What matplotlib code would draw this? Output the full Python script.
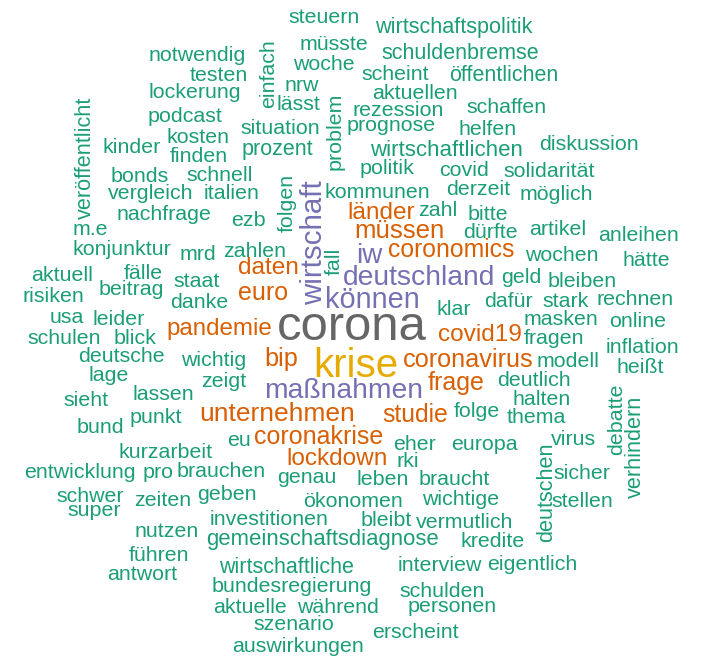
import numpy as np
import matplotlib
matplotlib.use("Agg")
import matplotlib.pyplot as plt

# word counts (corona is the most frequent term)
words = ["steuern", "wirtschaftspolitik", "notwendig", "müsste", "schuldenbremse", "woche",
         "testen", "scheint", "öffentlichen", "einfach", "lockerung", "nrw", "lässt",
         "aktuellen", "podcast", "rezession", "schaffen", "problem", "veröffentlicht",
         "kosten", "situation", "prognose", "helfen", "kinder", "finden", "prozent",
         "wirtschaftlichen", "diskussion", "bonds", "schnell", "politik", "covid",
         "solidarität", "vergleich", "italien", "kommunen", "derzeit", "möglich",
         "folgen", "wirtschaft", "länder", "zahl", "bitte", "nachfrage", "ezb", "m.e",
         "müssen", "dürfte", "artikel", "anleihen", "konjunktur", "mrd", "zahlen",
         "fall", "iw", "coronomics", "wochen", "hätte", "aktuell", "fälle", "daten",
         "deutschland", "geld", "bleiben", "risiken", "beitrag", "staat", "euro",
         "können", "rechnen", "usa", "leider", "danke", "dafür", "stark", "klar",
         "masken", "online", "schulen", "blick", "pandemie", "corona", "covid19",
         "fragen", "deutsche", "wichtig", "bip", "krise", "coronavirus", "modell",
         "inflation", "lage", "zeigt", "heißt", "sieht", "lassen", "maßnahmen",
         "frage", "deutlich", "punkt", "halten", "bund", "unternehmen", "studie",
         "folge", "thema", "debatte", "kurzarbeit", "eu", "coronakrise", "eher",
         "europa", "virus", "verhindern", "lockdown", "rki", "entwicklung", "pro",
         "brauchen", "genau", "leben", "braucht", "deutschen", "sicher", "schwer",
         "zeiten", "geben", "ökonomen", "wichtige", "stellen", "super",
         "investitionen", "bleibt", "vermutlich", "nutzen", "gemeinschaftsdiagnose",
         "kredite", "führen", "wirtschaftliche", "interview", "eigentlich", "antwort",
         "bundesregierung", "schulden", "aktuelle", "während", "personen", "szenario",
         "erscheint", "auswirkungen"]

freqs = [80, 90, 80, 80, 85, 80,
         80, 80, 85, 80, 80, 80, 80,
         80, 80, 80, 80, 80, 90,
         80, 80, 80, 80, 80, 80, 85,
         110, 80, 80, 80, 80, 80,
         80, 80, 80, 80, 80, 80,
         80, 350, 180, 80, 80, 80, 80, 80,
         230, 80, 80, 80, 80, 80, 80,
         80, 290, 190, 80, 80, 80, 80, 180,
         310, 80, 80, 80, 80, 80, 200,
         330, 80, 80, 80, 80, 80, 80, 80,
         80, 80, 80, 80, 170, 1000, 180,
         80, 80, 80, 210, 710, 210, 80,
         80, 80, 80, 80, 80, 80, 310,
         200, 80, 80, 80, 80, 245, 190,
         80, 80, 80, 80, 80, 200, 80,
         80, 80, 90, 180, 80, 80, 80,
         80, 80, 80, 80, 90, 80, 80,
         80, 80, 80, 80, 80, 80,
         80, 80, 80, 80, 105,
         80, 80, 85, 80, 80, 80,
         80, 80, 80, 80, 80, 80,
         80, 80]

# layout of the cloud: left end / baseline of each word in pixels, and upright words
lay_x = [288, 375, 149, 300, 381, 293,
         190, 361, 449, 274, 149, 285, 277,
         372, 148, 352, 466, 341, 91,
         167, 240, 347, 459, 103, 170, 242,
         370, 539, 111, 186, 360, 439,
         503, 108, 204, 324, 446, 520,
         293, 322, 347, 418, 468, 117, 231, 73,
         354, 463, 529, 598, 73, 180, 223,
         340, 356, 388, 525, 622, 31, 124, 238,
         343, 501, 548, 23, 99, 173, 238,
         325, 597, 50, 93, 170, 484, 542, 436,
         524, 609, 27, 114, 166, 277, 438,
         524, 78, 181, 264, 313, 403, 537,
         606, 89, 201, 617, 63, 133, 264,
         428, 497, 130, 512, 77, 199, 382,
         454, 507, 622, 118, 227, 254, 393,
         451, 551, 641, 286, 397, 24, 143,
         177, 277, 357, 419, 552, 553, 56,
         134, 197, 303, 422, 551, 67,
         210, 361, 416, 135, 206,
         461, 129, 219, 398, 487, 107,
         212, 399, 213, 297, 408, 253,
         372, 232]
lay_y = [23, 33, 61, 50, 59, 70,
         81, 80, 81, 108, 98, 91, 110,
         99, 122, 116, 113, 170, 219,
         143, 134, 131, 135, 153, 162, 155,
         156, 150, 182, 181, 174, 176,
         177, 199, 199, 198, 195, 200,
         232, 305, 219, 216, 220, 220, 226, 235,
         238, 238, 235, 241, 255, 260, 257,
         275, 263, 257, 261, 266, 281, 279, 274,
         285, 283, 287, 302, 295, 287, 300,
         308, 305, 323, 325, 308, 307, 307, 315,
         325, 327, 344, 344, 335, 340, 341,
         344, 362, 366, 366, 377, 367, 367,
         353, 381, 387, 373, 406, 400, 398,
         390, 386, 423, 405, 433, 421, 422,
         417, 423, 455, 458, 446, 444, 450,
         450, 445, 498, 465, 467, 478, 478,
         477, 483, 485, 485, 542, 479, 502,
         506, 500, 507, 505, 507, 516,
         525, 526, 528, 537, 545,
         547, 561, 573, 571, 570, 580,
         592, 597, 613, 613, 612, 630,
         638, 652]
upright = {"einfach", "problem", "veröffentlicht", "folgen", "wirtschaft", "fall",
           "debatte", "verhindern", "deutschen"}

palette = ["#1B9E77", "#D95F02", "#7570B3", "#E7298A",
           "#66A61E", "#E6AB02", "#A6761D", "#666666"]

fig = plt.figure(figsize=(7.02, 6.60), dpi=100)
ax = fig.add_axes([0, 0, 1, 1])
ax.set_xlim(0, 702)
ax.set_ylim(660, 0)
ax.axis("off")

fmax = max(freqs)
for w, f, x, y in zip(words, freqs, lay_x, lay_y):
    norm = f / fmax
    size_px = 19 + 30 * norm
    col = palette[int(np.ceil(len(palette) * norm)) - 1]
    ax.text(x, y, w, fontsize=size_px * 0.72, color=col,
            family="Liberation Sans", ha="left", va="baseline",
            rotation=90 if w in upright else 0, rotation_mode="anchor")

plt.savefig("out.png", dpi=100)
